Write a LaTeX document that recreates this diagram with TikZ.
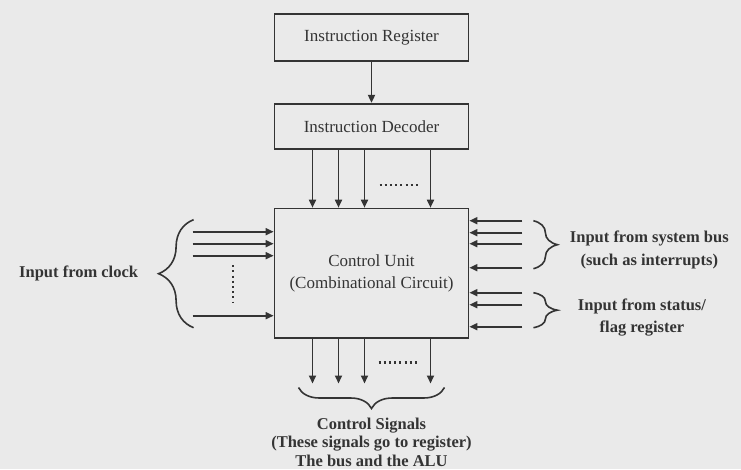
\documentclass[tikz,border=0pt]{standalone}
\usepackage{fontspec}
\setmainfont{Liberation Serif}
\usepackage{xcolor}
\usetikzlibrary{arrows.meta,positioning,decorations.pathreplacing}
\definecolor{paper}{RGB}{234,234,234}
\definecolor{ink}{RGB}{52,52,52}

\begin{document}
\begin{tikzpicture}[
    x=1pt, y=1pt,
    block/.style={
        draw=ink,
        line width=1.8pt,
        align=center,
        minimum width=194pt,
        text=ink,
        font=\fontsize{17}{22}\selectfont
    },
    sig/.style={
        draw=ink,
        line width=1.7pt,
        -{Triangle[length=8pt,width=7pt]}
    },
    brc/.style={
        draw=ink,
        line width=1.6pt,
        decorate,
        decoration={brace,amplitude=#1}
    },
    dotrow/.style={
        draw=ink,
        line width=2.2pt,
        dash pattern=on 2pt off 3.2pt
    },
    lbl/.style={
        text=ink,
        align=center,
        font=\bfseries\fontsize{16.5}{22.5}\selectfont
    }
]

\fill[paper] (0,0) rectangle (741,469);
\useasboundingbox (0,0) rectangle (741,469);

\node[block, minimum height=47pt] (ir) at (371.5,431.5) {Instruction Register};
\node[block, minimum height=45pt, below=41pt of ir] (id) {Instruction Decoder};
\node[block, minimum height=129pt, below=58pt of id] (cu) {Control Unit\\(Combinational Circuit)};

\draw[sig] (ir) -- (id);

\foreach \dx in {-59,-33,-7,59}
    \draw[sig] ([xshift=\dx]id.south) -- ([xshift=\dx]cu.north);
\draw[dotrow] ([shift={(8,-35)}]id.south) -- ++(38,0);

\foreach \dy in {24,36,48,108}
    \draw[sig] ([shift={(-81,-\dy)}]cu.north west) -- ([yshift=-\dy]cu.north west);
\draw[dotrow] ([shift={(-41,8)}]cu.west) -- ++(0,-37);

\foreach \dy in {13,25,36,60,85,97,119}
    \draw[sig] ([shift={(53,-\dy)}]cu.north east) -- ([yshift=-\dy]cu.north east);

\foreach \dx in {-59,-33,-7,59}
    \draw[sig] ([xshift=\dx]cu.south) -- ([shift={(\dx,-45)}]cu.south);
\draw[dotrow] ([shift={(7,-24)}]cu.south) -- ++(38,0);

\draw[brc=35] ([shift={(-80,-120)}]cu.north west) -- ([shift={(-80,-12)}]cu.north west);
\coordinate (clktip) at ([shift={(-115,-66)}]cu.north west);
\node[lbl, left=17pt of clktip] (clk) {Input from clock};

\draw[brc=24] ([shift={(64,-13)}]cu.north east) -- ([shift={(64,-61)}]cu.north east);
\coordinate (bustip) at ([shift={(88,-37)}]cu.north east);
\node[lbl, right=9pt of bustip, yshift=-5pt] (bus) {Input from system bus\\(such as interrupts)};

\draw[brc=24] ([shift={(64,-85)}]cu.north east) -- ([shift={(64,-120)}]cu.north east);
\coordinate (flagtip) at ([shift={(88,-102)}]cu.north east);
\node[lbl, right=17pt of flagtip, yshift=-8pt] (flag) {Input from status/\\flag register};

\draw[brc=21] ([shift={(73,-49)}]cu.south) -- ([shift={(-73,-49)}]cu.south);
\coordinate (ctltip) at ([yshift=-70]cu.south);
\node[lbl, below=6pt of ctltip, font=\bfseries\fontsize{16.5}{18.5}\selectfont] (ctl) {Control Signals\\(These signals go to register)\\The bus and the ALU};

\end{tikzpicture}
\end{document}
